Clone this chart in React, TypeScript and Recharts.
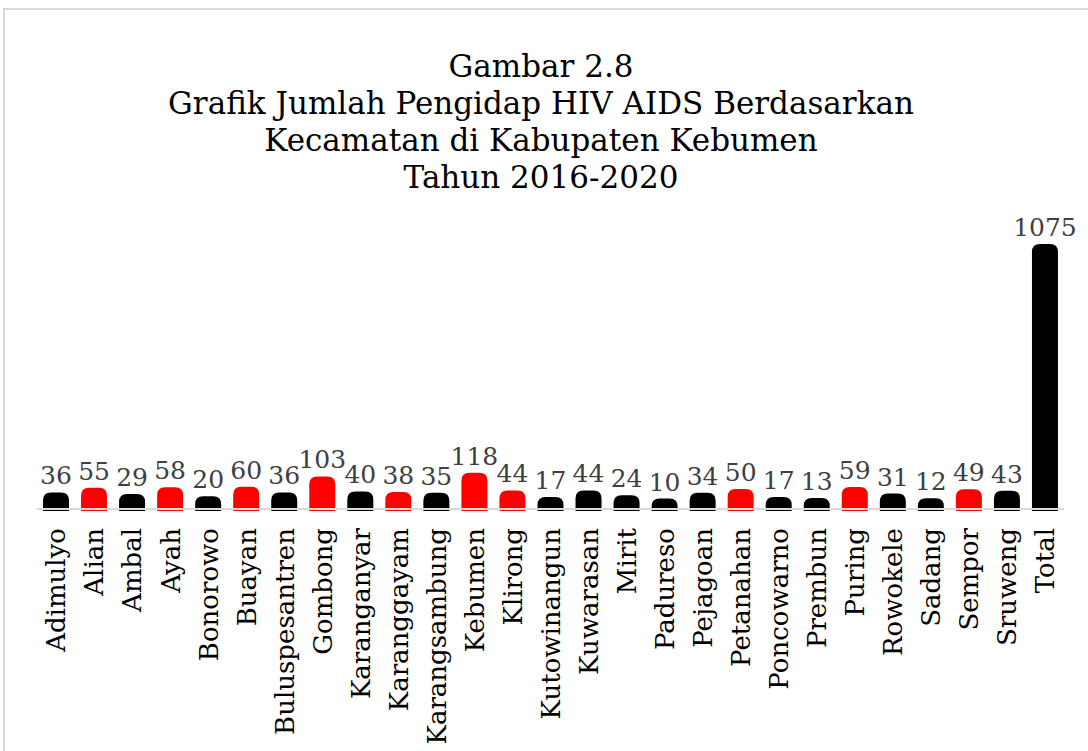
import { BarChart, Bar, XAxis, YAxis, Cell, LabelList } from 'recharts';

const kecamatan = [
  'Adimulyo', 'Alian', 'Ambal', 'Ayah', 'Bonorowo', 'Buayan', 'Buluspesantren', 'Gombong',
  'Karanganyar', 'Karanggayam', 'Karangsambung', 'Kebumen', 'Klirong', 'Kutowinangun',
  'Kuwarasan', 'Mirit', 'Padureso', 'Pejagoan', 'Petanahan', 'Poncowarno', 'Prembun',
  'Puring', 'Rowokele', 'Sadang', 'Sempor', 'Sruweng', 'Total',
];
const jumlah = [36, 55, 29, 58, 20, 60, 36, 103, 40, 38, 35, 118, 44, 17, 44, 24, 10, 34, 50, 17, 13, 59, 31, 12, 49, 43, 1075];
// kecamatan yang batangnya merah
const highlighted = ['Alian', 'Ayah', 'Buayan', 'Gombong', 'Karanggayam', 'Kebumen', 'Klirong', 'Petanahan', 'Puring', 'Sempor'];
const titleLines = ['Gambar 2.8', 'Grafik Jumlah Pengidap HIV AIDS Berdasarkan', 'Kecamatan di Kabupaten Kebumen', 'Tahun 2016-2020'];

const data = kecamatan.map((name, i) => ({ name, value: jumlah[i] }));

const FONT = '"DejaVu Serif", serif';
const CAP = 8;

function RoundedBar(props: any) {
  const { x, y, width, height, fill } = props;
  const top = y - CAP;
  const bottom = y + height + 2;
  const r = 8;
  const d = `M${x},${bottom} L${x},${top + r} Q${x},${top} ${x + r},${top} L${x + width - r},${top} Q${x + width},${top} ${x + width},${top + r} L${x + width},${bottom} Z`;
  return <path d={d} fill={fill} />;
}

function CategoryTick(props: any) {
  const { x, y, payload } = props;
  return (
    <text
      transform={`translate(${x},${y + 11}) rotate(-90)`}
      textAnchor="end"
      dy="0.36em"
      fontFamily={FONT}
      fontSize={26}
      fill="#000"
    >
      {payload.value}
    </text>
  );
}

export default function App() {
  return (
    <div
      style={{
        position: 'absolute',
        left: 3,
        top: 8,
        width: 1085,
        height: 743,
        borderTop: '2px solid #d9d9d9',
        borderLeft: '2px solid #d9d9d9',
        boxSizing: 'border-box',
        background: '#fff',
      }}
    >
      <div
        style={{
          position: 'absolute',
          left: 0,
          top: 38,
          width: 1072,
          textAlign: 'center',
          fontFamily: FONT,
          fontSize: 31,
          lineHeight: '37px',
          color: '#000',
        }}
      >
        {titleLines.map((t) => (
          <div key={t}>{t}</div>
        ))}
      </div>
      <div style={{ position: 'absolute', left: -2, top: -2 }}>
        <BarChart
          width={1085}
          height={743}
          data={data}
          margin={{ top: 244, right: 24, left: 34, bottom: 0 }}
        >
          <YAxis hide domain={[0, 1075]} />
          <XAxis
            dataKey="name"
            interval={0}
            height={242}
            tickLine={false}
            axisLine={{ stroke: '#d9d9d9', strokeWidth: 2 }}
            tick={<CategoryTick />}
          />
          <Bar dataKey="value" barSize={26} shape={<RoundedBar />} isAnimationActive={false}>
            {data.map((d) => (
              <Cell key={d.name} fill={highlighted.includes(d.name) ? '#ff0000' : '#000000'} />
            ))}
            <LabelList
              dataKey="value"
              position="top"
              offset={CAP + 8}
              fill="#404040"
              fontFamily={FONT}
              fontSize={25}
            />
          </Bar>
        </BarChart>
      </div>
    </div>
  );
}
